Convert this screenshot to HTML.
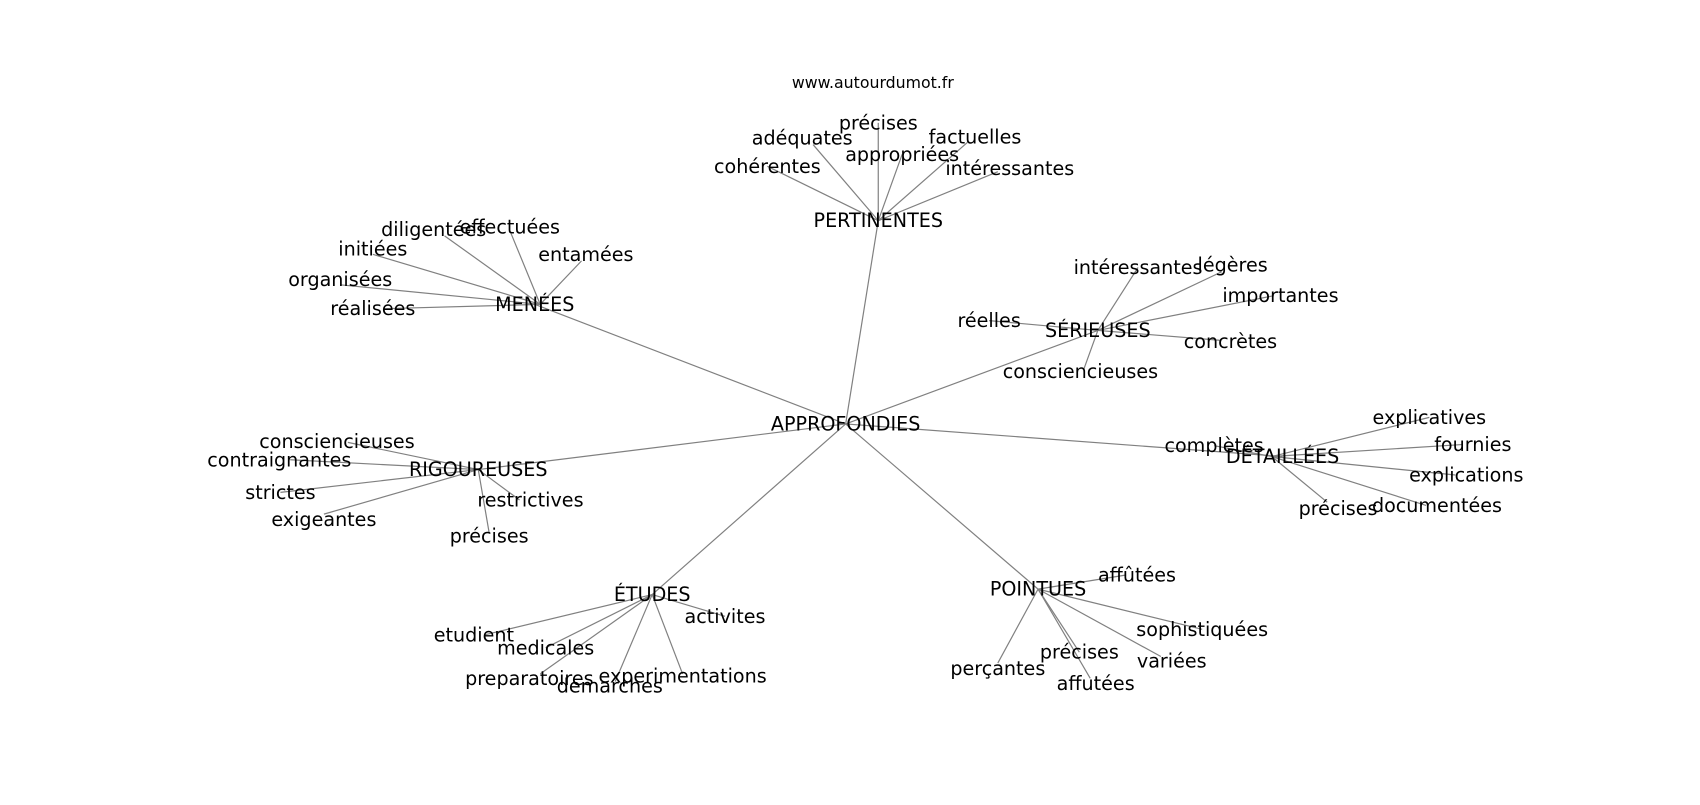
<!DOCTYPE html>
<html><head><meta charset="utf-8"><style>
html,body{margin:0;padding:0;background:#fff;}
svg text{font-family:"DejaVu Sans","Liberation Sans",sans-serif;font-size:17.6px;fill:#000;text-anchor:middle;dominant-baseline:central;}
svg line{stroke:#808080;stroke-width:1.1;}
</style></head><body>
<svg width="1700" height="800" viewBox="0 0 1564 736" xmlns="http://www.w3.org/2000/svg">
<g>
<line x1="778" y1="390" x2="808" y2="203"/>
<line x1="778" y1="390" x2="492" y2="280"/>
<line x1="778" y1="390" x2="1010" y2="304"/>
<line x1="778" y1="390" x2="1180" y2="420"/>
<line x1="778" y1="390" x2="440" y2="432"/>
<line x1="778" y1="390" x2="600" y2="547"/>
<line x1="778" y1="390" x2="955" y2="542"/>
<line x1="808" y1="203" x2="808" y2="113"/>
<line x1="808" y1="203" x2="748" y2="133"/>
<line x1="808" y1="203" x2="830" y2="142"/>
<line x1="808" y1="203" x2="890" y2="131"/>
<line x1="808" y1="203" x2="706" y2="153"/>
<line x1="808" y1="203" x2="918" y2="158"/>
<line x1="497" y1="280" x2="409" y2="217"/>
<line x1="497" y1="280" x2="469" y2="212"/>
<line x1="497" y1="280" x2="343" y2="234"/>
<line x1="497" y1="280" x2="535" y2="240"/>
<line x1="497" y1="280" x2="313" y2="262"/>
<line x1="497" y1="280" x2="353" y2="284"/>
<line x1="1010" y1="304" x2="1047" y2="246"/>
<line x1="1010" y1="304" x2="1124" y2="250"/>
<line x1="1010" y1="304" x2="1172" y2="272"/>
<line x1="1010" y1="304" x2="910" y2="295"/>
<line x1="1010" y1="304" x2="1122" y2="313"/>
<line x1="1010" y1="304" x2="997" y2="340"/>
<line x1="1170" y1="420" x2="1315" y2="384"/>
<line x1="1170" y1="420" x2="1345" y2="409"/>
<line x1="1170" y1="420" x2="1339" y2="437"/>
<line x1="1170" y1="420" x2="1117" y2="410"/>
<line x1="1170" y1="420" x2="1221" y2="462"/>
<line x1="1170" y1="420" x2="1312" y2="465"/>
<line x1="440" y1="432" x2="320" y2="407"/>
<line x1="440" y1="432" x2="267" y2="423"/>
<line x1="440" y1="432" x2="258" y2="453"/>
<line x1="440" y1="432" x2="298" y2="473"/>
<line x1="440" y1="432" x2="478" y2="460"/>
<line x1="440" y1="432" x2="450" y2="490"/>
<line x1="600" y1="547" x2="446" y2="584"/>
<line x1="600" y1="547" x2="502" y2="596"/>
<line x1="600" y1="547" x2="667" y2="567"/>
<line x1="600" y1="547" x2="497" y2="620"/>
<line x1="600" y1="547" x2="566" y2="627"/>
<line x1="600" y1="547" x2="628" y2="620"/>
<line x1="955" y1="542" x2="1036" y2="529"/>
<line x1="955" y1="542" x2="1106" y2="579"/>
<line x1="955" y1="542" x2="993" y2="600"/>
<line x1="955" y1="542" x2="1068" y2="604"/>
<line x1="955" y1="542" x2="918" y2="610"/>
<line x1="955" y1="542" x2="1003" y2="624"/>
</g>
<text x="803" y="76" style="font-size:14.5px">www.autourdumot.fr</text>
<text x="778" y="390">APPROFONDIES</text>
<text x="808" y="203">PERTINENTES</text>
<text x="808" y="113">précises</text>
<text x="738" y="127">adéquates</text>
<text x="830" y="142">appropriées</text>
<text x="897" y="126">factuelles</text>
<text x="706" y="153">cohérentes</text>
<text x="929" y="155">intéressantes</text>
<text x="492" y="280">MENÉES</text>
<text x="399" y="211">diligentées</text>
<text x="469" y="209">effectuées</text>
<text x="343" y="229">initiées</text>
<text x="539" y="234">entamées</text>
<text x="313" y="257">organisées</text>
<text x="343" y="284">réalisées</text>
<text x="1010" y="304">SÉRIEUSES</text>
<text x="1047" y="246">intéressantes</text>
<text x="1134" y="244">légères</text>
<text x="1178" y="272">importantes</text>
<text x="910" y="295">réelles</text>
<text x="1132" y="314">concrètes</text>
<text x="994" y="342">consciencieuses</text>
<text x="1180" y="420">DÉTAILLÉES</text>
<text x="1315" y="384">explicatives</text>
<text x="1355" y="409">fournies</text>
<text x="1349" y="437">explications</text>
<text x="1117" y="410">complètes</text>
<text x="1231" y="468">précises</text>
<text x="1322" y="465">documentées</text>
<text x="440" y="432">RIGOUREUSES</text>
<text x="310" y="406">consciencieuses</text>
<text x="257" y="423">contraignantes</text>
<text x="258" y="453">strictes</text>
<text x="298" y="478">exigeantes</text>
<text x="488" y="460">restrictives</text>
<text x="450" y="493">précises</text>
<text x="600" y="547">ÉTUDES</text>
<text x="436" y="584">etudient</text>
<text x="502" y="596">medicales</text>
<text x="667" y="567">activites</text>
<text x="487" y="624">preparatoires</text>
<text x="561" y="631">demarches</text>
<text x="628" y="622">experimentations</text>
<text x="955" y="542">POINTUES</text>
<text x="1046" y="529">affûtées</text>
<text x="1106" y="579">sophistiquées</text>
<text x="993" y="600">précises</text>
<text x="1078" y="608">variées</text>
<text x="918" y="615">perçantes</text>
<text x="1008" y="629">affutées</text>
</svg>
</body></html>
